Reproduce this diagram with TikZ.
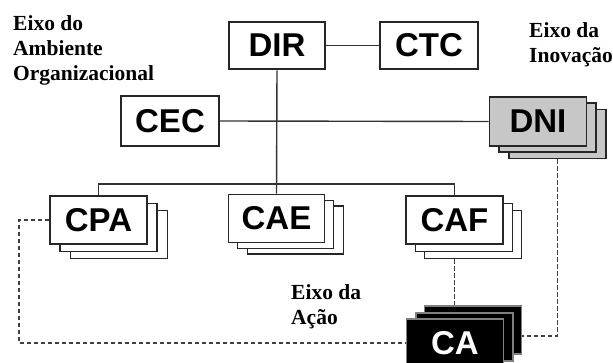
\documentclass[tikz,border=0pt]{standalone}
\usepackage{fontspec}
\setmainfont{Liberation Serif}
\newfontfamily\boxfont{Liberation Sans}
\usetikzlibrary{calc}
\tikzset{
  unitbox/.style={draw=black!85, line width=1.6pt, fill=white, minimum width=97pt, minimum height=48pt,
     inner sep=0pt, font=\boxfont\bfseries\fontsize{33}{33}\selectfont},
  grayunit/.style={unitbox, fill=black!22},
  blackunit/.style={unitbox, fill=black, draw=black!50, text=white},
  axislabel/.style={align=left, anchor=north west, inner sep=0pt,
     font=\bfseries\fontsize{21.5}{25}\selectfont},
  conn/.style={draw=black!80, line width=1.4pt},
  dconn/.style={draw=black!75, line width=1.6pt, dash pattern=on 4.5pt off 2.5pt},
}
\begin{document}
\begin{tikzpicture}[x=1pt,y=-1pt]
\useasboundingbox (0,0) rectangle (613,363);
% axis labels
\node[axislabel] (axamb) at (13,15) {Eixo do\\Ambiente\\Organizacional};
\node[axislabel] (axinov) at (529,22) {Eixo da\\Inovação};
\node[axislabel] (axacao) at (291,284) {Eixo da\\Ação};
% single boxes
\node[unitbox, line width=2.6pt, minimum width=96pt, minimum height=47pt] (dir) at (277,45.5) {DIR};
\node[unitbox, minimum width=98pt, minimum height=47pt] (ctc) at (429,45.5) {CTC};
\node[unitbox, minimum width=98pt, minimum height=50pt] (cec) at (170,121) {CEC};
% DNI stack
\node[grayunit, minimum height=49pt] (dni3) at (557.5,134) {};
\node[grayunit, minimum height=49pt] (dni2) at (547.5,127.5) {};
\node[grayunit, minimum height=49pt] (dni) at (538,121.5) {DNI};
% CPA stack
\node[unitbox] (cpa3) at (119,234.5) {};
\node[unitbox] (cpa2) at (108.5,227.5) {};
\node[unitbox] (cpa) at (98.5,220) {CPA};
% CAE stack
\node[unitbox, minimum width=96pt] (cae3) at (295.5,230) {};
\node[unitbox, minimum width=96pt] (cae2) at (285.5,224.5) {};
\node[unitbox, minimum width=96pt] (cae) at (276.5,218.5) {CAE};
% CAF stack
\node[unitbox] (caf3) at (473,234.5) {};
\node[unitbox] (caf2) at (464,227.5) {};
\node[unitbox] (caf) at (454.5,220) {CAF};
% CA stack
\node[blackunit] (ca3) at (473,330) {};
\node[blackunit] (ca2) at (464.5,337) {};
\node[blackunit] (ca) at (455,343) {CA};
% solid connectors
\coordinate (bar) at (276,184);
\draw[conn] (dir.south) -- (cae.north);
\draw[conn] (dir.east) -- (ctc.west);
\draw[conn] (cec.east) -- (dni.west);
\draw[conn] (cpa.north) |- (bar) -| (caf.north);
% dashed connectors
\coordinate (lft) at (19,280);
\coordinate (cadni) at ($(ca3.east)+(0,6)$);
\draw[dconn] (caf3.south -| caf.south) -- (ca3.north -| caf.south);
\draw[dconn] (dni3.south) |- (cadni);
\draw[dconn] (cpa.west) -| (lft) |- (ca.west);
\end{tikzpicture}
\end{document}
